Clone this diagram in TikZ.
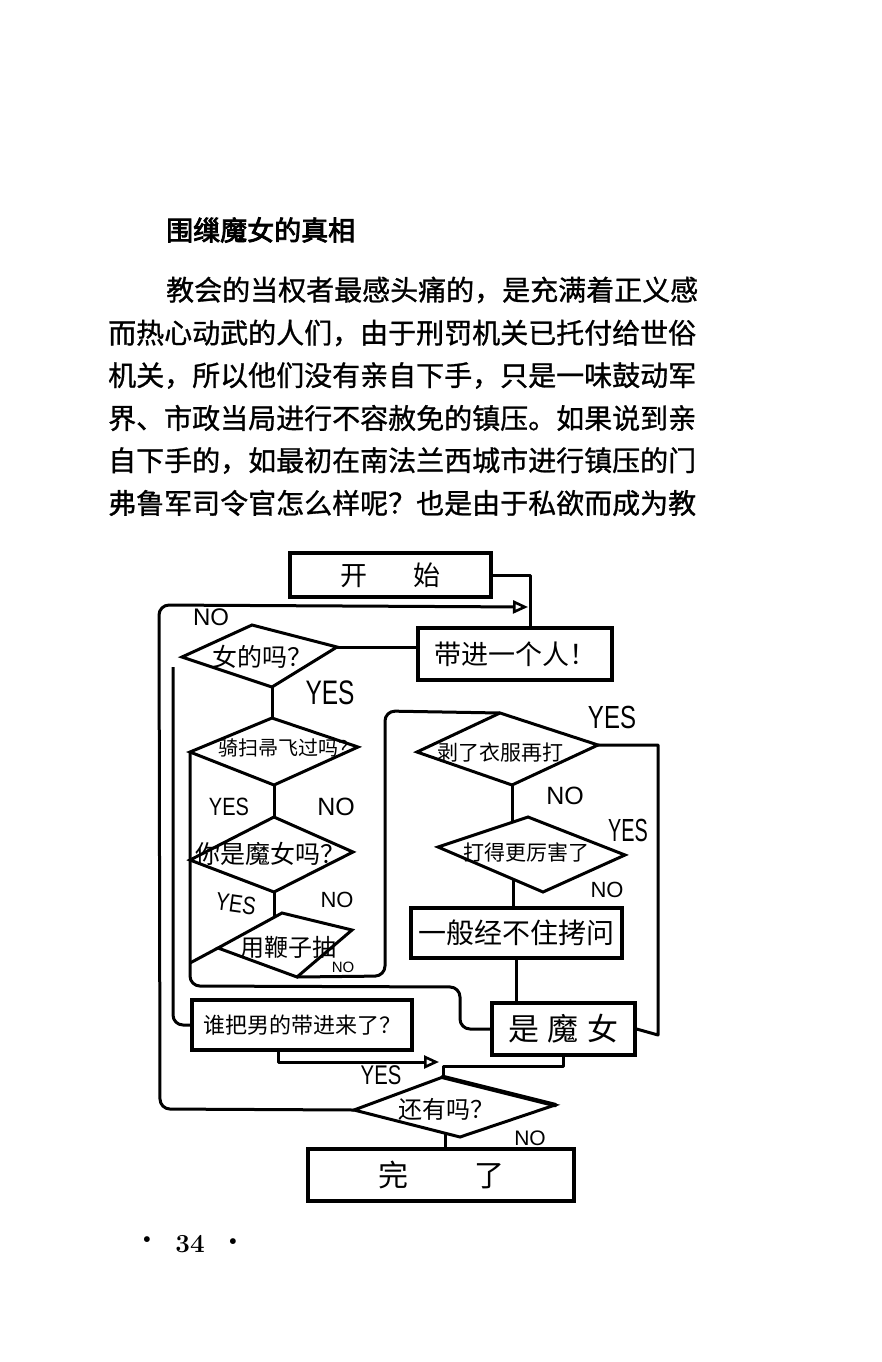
\documentclass[tikz,border=0pt]{standalone}
\usepackage{fontspec}
\usetikzlibrary{arrows.meta}
\newfontfamily\cjk{Noto Sans CJK SC}
\newfontfamily\cjkbody[FakeBold=1]{Noto Sans CJK SC}
\newfontfamily\cjkbold[FakeBold=3]{Noto Sans CJK SC}
\newfontfamily\labfont{Liberation Sans}
\newcommand\fsz[1]{\fontsize{#1}{#1}\selectfont}
\tikzset{
  fl/.style={line width=3pt, line join=round},
  bx/.style={draw, line width=3.2pt, inner sep=0pt},
  dia/.style={line width=3pt, line join=miter},
  para/.style={anchor=west, inner sep=0pt, font=\cjkbody\fsz{28}},
  hw/.style={inner sep=0pt, font=\cjk\fsz{#1}},
  hw/.default=24,
  lb/.style={inner sep=0pt, font=\labfont\fsz{#1}},
  lb/.default=24,
  oarr/.style={-{Triangle[open, length=15pt, width=13pt, line width=2.6pt]}},
}
\begin{document}
\begin{tikzpicture}[x=1pt,y=-1pt]
\fill[white] (0,0) rectangle (881,1362);
\useasboundingbox (0,0) rectangle (881,1362);

% ---------- text above ----------
\node[anchor=west, inner sep=0pt, font=\cjkbold\fsz{27}] (title) at (166,230) {围缫魔女的真相};
\node[para] (p1) at (166,290) {教会的当权者最感头痛的，是充满着正义感};
\node[para] (p2) at (108,333) {而热心动武的人们，由于刑罚机关已托付给世俗};
\node[para] (p3) at (108,375.5) {机关，所以他们没有亲自下手，只是一味鼓动军};
\node[para] (p4) at (108,418) {界、市政当局进行不容赦免的镇压。如果说到亲};
\node[para] (p5) at (108,460.5) {自下手的，如最初在南法兰西城市进行镇压的门};
\node[para] (p6) at (108,503) {弗鲁军司令官怎么样呢？也是由于私欲而成为教};

% ---------- boxes ----------
\node[bx, minimum width=201pt, minimum height=44pt, font=\cjk\fsz{27}] (start) at (390.5,575) {开\hspace{46pt}始};
\node[bx, minimum width=194pt, minimum height=52pt, font=\cjk\fsz{27}] (bring) at (515,654) {带进一个人！};
\node[bx, minimum width=211pt, minimum height=50pt, font=\cjk\fsz{28}] (torture) at (516.5,933) {一般经不住拷问};
\node[bx, minimum width=143pt, minimum height=52pt, font=\cjk\fsz{31}] (witch) at (563.5,1029) {是\hspace{9pt}魔\hspace{9pt}女};
\node[bx, minimum width=220pt, minimum height=50pt, font=\cjk\fsz{22}] (man) at (302,1025) {谁把男的带进来了？};
\node[bx, minimum width=266pt, minimum height=52pt, font=\cjk\fsz{30}] (end) at (441,1175) {完\hspace{66pt}了};

% ---------- diamonds ----------
\coordinate (d1l) at (182,657); \coordinate (d1t) at (252,625);
\coordinate (d1r) at (337,647); \coordinate (d1b) at (272,687);
\draw[dia] (d1l) -- (d1t) -- (d1r) -- (d1b) -- cycle;
\node[hw=25] (t1) at (262,657) {女的吗？};

\coordinate (d2l) at (190,752); \coordinate (d2t) at (272,718);
\coordinate (d2r) at (358,747); \coordinate (d2b) at (274,785);
\draw[dia] (d2l) -- (d2t) -- (d2r) -- (d2b) -- cycle;
\node[hw=20] (t2) at (288,748) {骑扫帚飞过吗？};

\coordinate (d3l) at (190,860); \coordinate (d3t) at (274,817);
\coordinate (d3r) at (353,852); \coordinate (d3b) at (274,892);
\draw[dia] (d3l) -- (d3t) -- (d3r) -- (d3b) -- cycle;
\node[hw=25] (t3) at (270,854) {你是魔女吗？};

\coordinate (d4l) at (218,948); \coordinate (d4t) at (282,913);
\coordinate (d4r) at (352,930); \coordinate (d4b) at (297,977);
\coordinate (d4x) at (190,963);
\draw[dia] (d4l) -- (d4t) -- (d4r) -- (d4b) -- cycle;
\draw[fl] (d4l) -- (d4x);
\node[hw=24] (t4) at (288,947) {用鞭子抽};

\coordinate (d5l) at (417,752); \coordinate (d5t) at (500,713);
\coordinate (d5r) at (598,745); \coordinate (d5b) at (512,785);
\draw[dia] (d5l) -- (d5t) -- (d5r) -- (d5b) -- cycle;
\node[hw=21] (t5) at (500,752) {剥了衣服再打};

\coordinate (d6l) at (438,847); \coordinate (d6t) at (528,817);
\coordinate (d6r) at (625,855); \coordinate (d6b) at (543,892);
\draw[dia] (d6l) -- (d6t) -- (d6r) -- (d6b) -- cycle;
\node[hw=21] (t6) at (526,852) {打得更厉害了};

\coordinate (d7l) at (354,1110); \coordinate (d7t) at (443,1077);
\coordinate (d7r) at (555,1105); \coordinate (d7b) at (460,1137);
\draw[dia] (d7l) -- (d7t) -- (d7r) -- (d7b) -- cycle;
\draw[line width=4.5pt, line cap=round] (d7t) -- (d7r);
\node[hw=24] (t7) at (446,1109) {还有吗？};

% ---------- connectors ----------
\coordinate (j1) at (530,628);
\draw[fl] (start.east) -| (j1);
\coordinate (j2) at (528,607);
\draw[fl, oarr, rounded corners=10pt] (d7l) -- (160,1109) -- (159,605) -- (j2);
\draw[fl] (d1r) -- (d1r -| bring.west);
\draw[fl] (d1b) -- (d2t);
\draw[fl] (d2b) -- (d3t);
\coordinate (e4) at (274,917);
\draw[fl] (d3b) -- (e4);
\coordinate (n1) at (173,667);
\draw[fl, rounded corners=10pt] (n1) -- (173,1025) -- (man.west);
\draw[fl, rounded corners=10pt] (d2l) -- (190,986) -- (460,987) |- (witch.west);
\draw[fl, rounded corners=10pt] (d4b) -- (385,976) -- (385,711) -- (d5t);
\draw[fl] (d5r) -| (658,1035) -- (witch.east);
\coordinate (e6a) at (512,822);
\draw[fl] (d5b) -- (e6a);
\coordinate (e6b) at (513,879);
\draw[fl] (e6b) -- (e6b |- torture.north);
\draw[fl] (torture.south) -- (torture.south |- witch.north);
\coordinate (j3) at (439,1062);
\draw[fl, oarr] ([xshift=-24pt]man.south) |- (j3);
\draw[fl] (witch.south) -- ++(0,10) -| (d7t);
\coordinate (e7) at (445,1133);
\draw[fl] (e7) -- (e7 |- end.north);

% ---------- labels ----------
\node[lb=24] (l1) at (211,617) {NO};
\node[lb=34] (l2) at (330,693) {\scalebox{0.72}[1]{YES}};
\node[lb=25] (l3) at (229,807) {\scalebox{0.8}[1]{YES}};
\node[lb=25] (l4) at (336,807) {NO};
\node[lb=25, rotate=-8] (l5) at (236,904) {\scalebox{0.8}[1]{YES}};
\node[lb=22] (l6) at (337,900) {NO};
\node[lb=15] (l7) at (343,967) {NO};
\node[lb=32] (l8) at (612,717) {\scalebox{0.75}[1]{YES}};
\node[lb=25] (l9) at (565,796) {NO};
\node[lb=32] (l10) at (628,830) {\scalebox{0.62}[1]{YES}};
\node[lb=22] (l11) at (607,890) {NO};
\node[lb=27] (l12) at (381,1075) {\scalebox{0.75}[1]{YES}};
\node[lb=21] (l13) at (530,1138) {NO};

% ---------- page number ----------
\node[font=\bfseries\fsz{26}, inner sep=0pt] (pg) at (190,1244) {34};
\node[font=\fsz{26}, inner sep=0pt] (b1) at (147,1242) {\textbullet};
\node[font=\fsz{26}, inner sep=0pt] (b2) at (233,1244) {\textbullet};
\end{tikzpicture}
\end{document}
